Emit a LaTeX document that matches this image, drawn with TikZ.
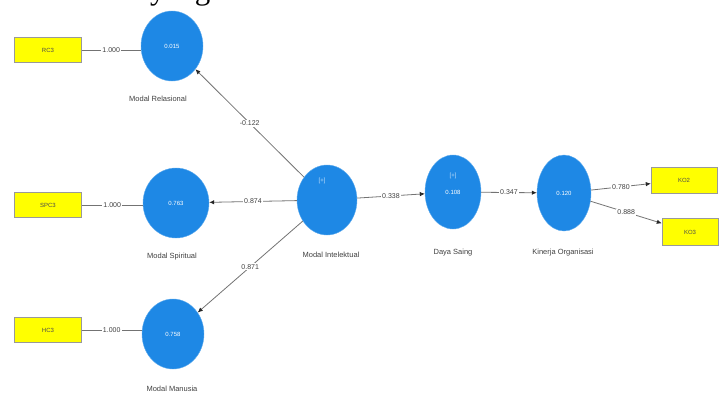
\documentclass[tikz,border=0pt]{standalone}
\usepackage{fontspec}
\setmainfont{Liberation Sans}
\newfontfamily\headserif{Liberation Serif}
\usetikzlibrary{positioning,shapes.geometric,arrows.meta}
\definecolor{latentblue}{RGB}{30,136,229}
\definecolor{itemyellow}{RGB}{255,255,0}

\begin{document}
\begin{tikzpicture}[
        x=1pt, y=-1pt,
        >={Latex[length=5pt, width=4.5pt, color=black!85]},
        latent/.style={ellipse, fill=latentblue, draw=latentblue!70, inner sep=0pt, minimum width=62pt, minimum height=70pt, text=white, font=\fontsize{6}{6}\selectfont},
        item/.style={draw=black!40, fill=itemyellow, inner sep=0pt, minimum width=67pt, minimum height=25pt, font=\fontsize{6}{6}\selectfont\color{black!70}},
        conname/.style={font=\fontsize{7.5}{7.5}\selectfont\color{black!75}},
        plusmark/.style={text=white!75!latentblue, font=\fontsize{6}{6}\selectfont},
        coef/.style={fill=white, inner sep=1pt, font=\fontsize{7}{7}\selectfont\color{black!75}},
        link/.style={draw=black!55, line width=0.8pt}
      ]
      \useasboundingbox (0,0) rectangle (721,392);

      % cut-off line of text above the figure
      \begin{scope}
        \clip (0,0) rectangle (721,392);
        \node (head) [anchor=base west, inner sep=0pt, font=\headserif\fontsize{31}{31}\selectfont] at (150,-1) {yang};
      \end{scope}

      % constructs
      \node (MRel) [latent] at (172,46) {0.015};
      \node (MSpi) [latent, minimum width=66pt] at (176,203) {0.763};
      \node (MMan) [latent] at (173,334) {0.758};
      \node (MInt) [latent, minimum width=60pt] at (327,200) {};
      \node (DS) [latent, minimum width=56pt, minimum height=74pt] at (453,192) {0.108};
      \node (KO) [latent, minimum width=54pt, minimum height=76pt] at (564,193) {0.120};

      \node (MIntP) [plusmark] at (322,181) {[+]};
      \node (DSP) [plusmark] at (453,176) {[+]};

      \node (MRelN) [conname] at (158,99) {Modal Relasional};
      \node (MSpiN) [conname] at (172,257) {Modal Spiritual};
      \node (MManN) [conname] at (172,389) {Modal Manusia};
      \node (MIntN) [conname] at (331,255) {Modal Intelektual};
      \node (DSN) [conname] at (453,253) {Daya Saing};
      \node (KON) [conname] at (563,253) {Kinerja Organisasi};

      % indicators
      \node (RC3) [item] at (48,50) {RC3};
      \node (SPC3) [item] at (48,205) {SPC3};
      \node (HC3) [item] at (48,330) {HC3};
      \node (KO2) [item, minimum width=66pt, minimum height=26pt] at (684,180) {KO2};
      \node (KO3) [item, minimum width=56pt, minimum height=27pt] at (690,232) {KO3};

      \path (RC3) edge[link] node[coef] {1.000} (RC3 -| MRel.west);
      \path (SPC3) edge[link] node[coef] {1.000} (SPC3 -| MSpi.west);
      \path (HC3) edge[link] node[coef] {1.000} (HC3 -| MMan.west);

      \path[->] (MInt) edge[link] node[coef] {-0.122} (MRel);
      \path[->] (MInt) edge[link] node[coef] {0.874} (MSpi);
      \path[->] (MInt) edge[link] node[coef] {0.871} (MMan);
      \path[->] (MInt) edge[link] node[coef] {0.338} (DS);
      \path[->] (DS) edge[link] node[coef] {0.347} (KO);
      \path[->] (KO) edge[link] node[coef] {0.780} (KO2);
      \path[->] (KO) edge[link] node[coef] {0.888} (KO3);

    \end{tikzpicture}
\end{document}
